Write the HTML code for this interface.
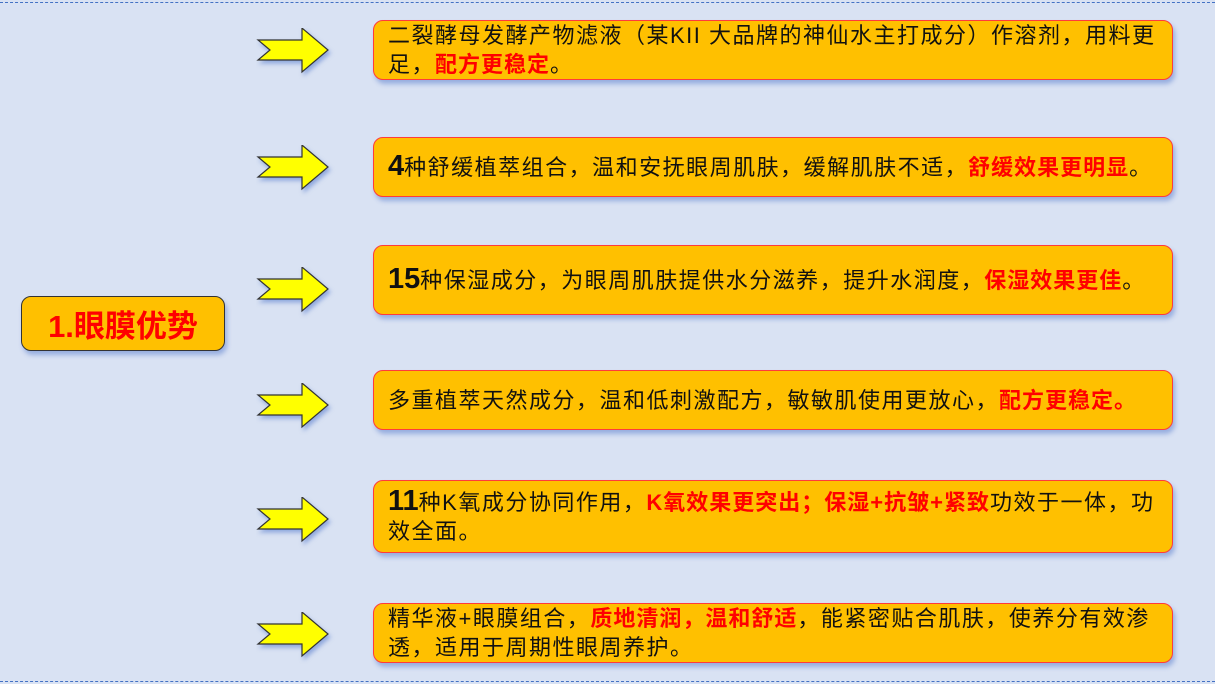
<!DOCTYPE html><html><head><meta charset="utf-8"><style>
body{margin:0;width:1215px;height:684px;background:#d9e2f3;position:relative;overflow:hidden;font-family:"Liberation Sans","Noto Sans CJK SC",sans-serif}
.dash{position:absolute;left:0;width:1215px;border-top:1px dashed #4472c4}
.b{position:absolute;left:373px;width:800px;background:#ffc000;border:1.5px solid #ff3b3b;border-radius:10px;box-shadow:2px 4px 5px rgba(70,110,200,.45);box-sizing:border-box;padding:0 8px 0 14px;font-size:22px;letter-spacing:1.5px;line-height:29px;color:#111;display:flex;align-items:center;white-space:nowrap}
.r{color:#ff0000;font-weight:bold;letter-spacing:1px}
.n{font-weight:bold;font-size:29px;letter-spacing:0}
svg{position:absolute;left:256px}
.m{position:absolute;left:21px;top:296px;width:204px;height:55px;background:#ffc000;border:1.5px solid #333;border-radius:10px;box-sizing:border-box;box-shadow:2px 4px 5px rgba(70,110,200,.45);color:#ff0000;font-weight:bold;font-size:31px;display:flex;align-items:center;justify-content:center}
</style></head><body>
<div class="dash" style="top:2px"></div><div class="dash" style="top:681px"></div>
<div class="m">1.眼膜优势</div>
<svg width="0" height="0"><defs><g id="a"><path d="M2,12 L46,12 L46,0 L72,22 L46,44 L46,32 L2,32 L14,22 Z" fill="#ffff00" stroke="#333" stroke-width="1.2" filter="drop-shadow(2px 3px 2px rgba(70,110,200,.5))"/></g></defs></svg>
<svg width="80" height="52" style="top:28px"><use href="#a"/></svg>
<svg width="80" height="52" style="top:145px"><use href="#a"/></svg>
<svg width="80" height="52" style="top:267px"><use href="#a"/></svg>
<svg width="80" height="52" style="top:383px"><use href="#a"/></svg>
<svg width="80" height="52" style="top:497px"><use href="#a"/></svg>
<svg width="80" height="52" style="top:612px"><use href="#a"/></svg>
<div class="b" style="top:20px;height:60px"><div>二裂酵母发酵产物滤液（某KII 大品牌的神仙水主打成分）作溶剂，用料更<br>足，<span class="r">配方更稳定</span>。</div></div>
<div class="b" style="top:137px;height:60px"><div><span class="n">4</span>种舒缓植萃组合，温和安抚眼周肌肤，缓解肌肤不适，<span class="r">舒缓效果更明显</span>。</div></div>
<div class="b" style="top:245px;height:70px"><div><span class="n">15</span>种保湿成分，为眼周肌肤提供水分滋养，提升水润度，<span class="r">保湿效果更佳</span>。</div></div>
<div class="b" style="top:370px;height:60px"><div>多重植萃天然成分，温和低刺激配方，敏敏肌使用更放心，<span class="r">配方更稳定。</span></div></div>
<div class="b" style="top:480px;height:73px"><div><span class="n">11</span>种K氧成分协同作用，<span class="r">K氧效果更突出；保湿+抗皱+紧致</span>功效于一体，功<br>效全面。</div></div>
<div class="b" style="top:603px;height:60px"><div>精华液+眼膜组合，<span class="r">质地清润，温和舒适</span>，能紧密贴合肌肤，使养分有效渗<br>透，适用于周期性眼周养护。</div></div>
</body></html>
